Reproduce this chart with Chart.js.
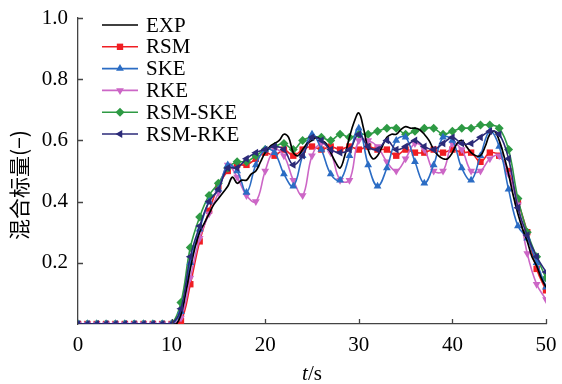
<!DOCTYPE html>
<html>
<head>
<meta charset="utf-8">
<script src="https://cdn.jsdelivr.net/npm/chart.js@4.4.0/dist/chart.umd.min.js"></script>
<style>
  html, body { margin: 0; padding: 0; background: #fff; }
  #wrap { width: 562px; height: 384px; }
</style>
</head>
<body>
<div id="wrap"><canvas id="canvas1" width="562" height="384"></canvas></div>
<script>
// time axis of the simulations (1 s output)
const simTime = [0, 1, 2, 3, 4, 5, 6, 7, 8, 9, 10, 11, 12, 13, 14, 15, 16, 17, 18, 19, 20,
  21, 22, 23, 24, 25, 26, 27, 28, 29, 30, 31, 32, 33, 34, 35, 36, 37, 38, 39, 40,
  41, 42, 43, 44, 45, 46, 47, 48, 49, 50];

// measured curve
const expTime = [0, 10, 10.5, 11, 11.5, 12, 12.5, 13, 13.5, 14, 14.5, 15, 15.5, 16, 16.5, 17, 17.5,
  18, 18.5, 19, 19.5, 20, 20.5, 21, 21.5, 22, 22.5, 23, 23.5, 24, 24.5, 25, 25.5, 26, 26.5,
  27, 27.5, 28, 28.5, 29, 29.5, 30, 30.5, 31, 31.5, 32, 32.5, 33, 33.5, 34, 34.5, 35, 35.5,
  36, 36.5, 37, 37.5, 38, 38.5, 39, 39.5, 40, 40.5, 41, 41.5, 42, 42.5, 43, 43.5, 44, 44.5,
  45, 45.5, 46, 46.5, 47, 47.5, 48, 48.5, 49, 49.5, 50];
const expVal = [0, 0, 0.00, 0.03, 0.10, 0.18, 0.25, 0.30, 0.33, 0.36, 0.39, 0.41, 0.43, 0.45, 0.48, 0.46, 0.47,
  0.47, 0.49, 0.50, 0.53, 0.56, 0.58, 0.59, 0.60, 0.62, 0.61, 0.56, 0.55, 0.57, 0.59, 0.60, 0.61, 0.60, 0.59,
  0.56, 0.53, 0.51, 0.55, 0.61, 0.66, 0.69, 0.64, 0.57, 0.54, 0.55, 0.58, 0.61, 0.62, 0.62, 0.635, 0.645, 0.64,
  0.64, 0.635, 0.62, 0.60, 0.57, 0.55, 0.54, 0.54, 0.56, 0.59, 0.60, 0.58, 0.56, 0.55, 0.55, 0.58, 0.62, 0.63,
  0.60, 0.55, 0.49, 0.42, 0.36, 0.31, 0.27, 0.22, 0.19, 0.15, 0.12];

const rsm = [0, 0, 0, 0, 0, 0, 0, 0, 0, 0, 0, 0.01, 0.13, 0.27, 0.37, 0.45, 0.50, 0.52, 0.52, 0.54, 0.56,
  0.55, 0.57, 0.55, 0.57, 0.58, 0.57, 0.58, 0.57, 0.58, 0.57, 0.58, 0.57, 0.57, 0.55, 0.57, 0.56, 0.56, 0.57, 0.56, 0.57,
  0.56, 0.56, 0.53, 0.56, 0.55, 0.50, 0.40, 0.30, 0.18, 0.11];
const ske = [0, 0, 0, 0, 0, 0, 0, 0, 0, 0, 0, 0.04, 0.20, 0.31, 0.40, 0.44, 0.52, 0.50, 0.43, 0.52, 0.57,
  0.56, 0.49, 0.45, 0.55, 0.62, 0.57, 0.49, 0.47, 0.55, 0.64, 0.52, 0.45, 0.51, 0.60, 0.61, 0.53, 0.46, 0.52, 0.61, 0.60,
  0.51, 0.47, 0.55, 0.63, 0.58, 0.44, 0.32, 0.28, 0.20, 0.12];
const rke = [0, 0, 0, 0, 0, 0, 0, 0, 0, 0, 0, 0.02, 0.15, 0.28, 0.36, 0.43, 0.52, 0.48, 0.42, 0.40, 0.50,
  0.57, 0.55, 0.47, 0.42, 0.55, 0.59, 0.56, 0.47, 0.47, 0.60, 0.60, 0.58, 0.53, 0.50, 0.54, 0.59, 0.57, 0.50, 0.50, 0.59,
  0.57, 0.50, 0.50, 0.54, 0.55, 0.49, 0.39, 0.23, 0.13, 0.08];
const rsmSke = [0, 0, 0, 0, 0, 0, 0, 0, 0, 0, 0, 0.07, 0.25, 0.35, 0.42, 0.46, 0.51, 0.53, 0.53, 0.55, 0.57,
  0.58, 0.59, 0.57, 0.60, 0.61, 0.61, 0.60, 0.62, 0.61, 0.62, 0.62, 0.63, 0.64, 0.64, 0.62, 0.63, 0.64, 0.64, 0.62, 0.63,
  0.64, 0.64, 0.65, 0.65, 0.64, 0.57, 0.41, 0.30, 0.22, 0.15];
const rsmRke = [0, 0, 0, 0, 0, 0, 0, 0, 0, 0, 0, 0.05, 0.22, 0.32, 0.40, 0.44, 0.51, 0.51, 0.54, 0.56, 0.57,
  0.58, 0.57, 0.52, 0.55, 0.61, 0.60, 0.57, 0.56, 0.57, 0.62, 0.58, 0.57, 0.60, 0.57, 0.58, 0.60, 0.58, 0.57, 0.59, 0.61,
  0.59, 0.59, 0.61, 0.63, 0.62, 0.54, 0.38, 0.29, 0.22, 0.17];

const xTicks = [0, 10, 20, 30, 40, 50];
const yTicks = [0.2, 0.4, 0.6, 0.8, 1.0];
const yTitle = '混合标量(−)';

const serif = '"Liberation Serif", "Times New Roman", serif';

function pairs(xs, ys) {
  let out = [];
  for (let i = 0; i < xs.length; i++) out.push({ x: xs[i], y: ys[i] });
  return out;
}

function simSet(label, vals, color, style, rot, order) {
  return {
    label: label,
    data: pairs(simTime, vals),
    borderColor: color,
    backgroundColor: color,
    borderWidth: 1.6,
    pointStyle: style,
    rotation: rot,
    pointRadius: 4.5,
    pointBorderWidth: 0,
    tension: 0.4,
    order: order
  };
}

const datasets = [
  {
    label: 'EXP',
    data: pairs(expTime, expVal),
    borderColor: '#000000',
    backgroundColor: '#000000',
    borderWidth: 1.7,
    pointRadius: 0,
    tension: 0.4,
    order: 2
  },
  simSet('RSM', rsm, '#f01e23', 'rect', 0, 6),
  simSet('SKE', ske, '#2b6cc4', 'triangle', 0, 3),
  simSet('RKE', rke, '#cc66c6', 'triangle', 180, 4),
  simSet('RSM-SKE', rsmSke, '#2e9a44', 'rectRot', 0, 5),
  simSet('RSM-RKE', rsmRke, '#2b2a78', 'triangle', -90, 1)
];

// inward tick marks, axis titles and the legend box
const extras = {
  id: 'extras',
  afterDraw(chart) {
    const ctx = chart.ctx;
    const xs = chart.scales.x, ys = chart.scales.y;
    const area = chart.chartArea;
    ctx.save();
    ctx.strokeStyle = '#444';
    ctx.lineWidth = 1.3;
    ctx.beginPath();
    xTicks.forEach(v => {
      if (v === 0) return;
      const px = Math.round(xs.getPixelForValue(v)) + 0.5;
      ctx.moveTo(px, area.bottom);
      ctx.lineTo(px, area.bottom - 5);
    });
    yTicks.forEach(v => {
      const py = Math.round(ys.getPixelForValue(v)) + 0.5;
      ctx.moveTo(area.left, py);
      ctx.lineTo(area.left + 5, py);
    });
    ctx.stroke();

    // x title: italic t, upright /s
    ctx.fillStyle = '#000';
    ctx.textBaseline = 'alphabetic';
    const cx = (area.left + area.right) / 2;
    ctx.font = 'italic 21px ' + serif;
    const wt = ctx.measureText('t').width;
    ctx.font = '21px ' + serif;
    const ws = ctx.measureText('/s').width;
    const x0 = cx - (wt + ws) / 2;
    ctx.font = 'italic 21px ' + serif;
    ctx.fillText('t', x0, 380);
    ctx.font = '21px ' + serif;
    ctx.fillText('/s', x0 + wt, 380);

    // y title, read bottom to top
    ctx.save();
    ctx.translate(19, 185);
    ctx.rotate(-Math.PI / 2);
    ctx.font = '21px "Noto Sans CJK SC", sans-serif';
    ctx.textAlign = 'center';
    ctx.textBaseline = 'middle';
    ctx.fillText(yTitle, 0, 0);
    ctx.restore();

    // legend
    const lx = area.left + 24, ly = 25, row = 21.8;
    ctx.font = '21px ' + serif;
    ctx.textBaseline = 'middle';
    ctx.textAlign = 'left';
    chart.data.datasets.forEach((ds, i) => {
      const y = ly + i * row;
      ctx.strokeStyle = ds.borderColor;
      ctx.lineWidth = ds.borderWidth;
      ctx.beginPath();
      ctx.moveTo(lx, y);
      ctx.lineTo(lx + 36, y);
      ctx.stroke();
      if (ds.pointRadius > 0) {
        ctx.fillStyle = ds.borderColor;
        Chart.helpers.drawPoint(ctx, {
          pointStyle: ds.pointStyle,
          rotation: ds.rotation,
          radius: ds.pointRadius,
          borderWidth: 0
        }, lx + 18, y);
      }
      ctx.fillStyle = '#000';
      ctx.fillText(ds.label, lx + 44, y + 1);
    });
    ctx.restore();
  }
};

new Chart(document.getElementById('canvas1'), {
  type: 'line',
  data: { datasets: datasets },
  options: {
    responsive: false,
    animation: false,
    devicePixelRatio: 1,
    layout: { padding: { top: 18, right: 16, left: 0, bottom: 0 } },
    plugins: { legend: { display: false }, tooltip: { enabled: false } },
    scales: {
      x: {
        type: 'linear',
        min: 0,
        max: 50,
        grid: { display: false, drawTicks: false },
        border: { display: true, color: '#444', width: 1.3 },
        ticks: {
          stepSize: 10,
          padding: 9,
          color: '#000',
          font: { family: serif, size: 21 }
        },
        afterFit(scale) {
          scale.height = 60;
          scale.paddingLeft = 0;
          scale.paddingRight = 0;
        }
      },
      y: {
        min: 0,
        max: 1,
        grid: { display: false, drawTicks: false },
        border: { display: true, color: '#444', width: 1.3 },
        ticks: {
          stepSize: 0.2,
          padding: 10,
          color: '#000',
          font: { family: serif, size: 21 },
          callback: v => (v === 0 ? '' : v.toFixed(1))
        },
        afterFit(scale) {
          scale.width = 78;
          scale.paddingTop = 0;
          scale.paddingBottom = 0;
        }
      }
    }
  },
  plugins: [extras]
});
</script>
</body>
</html>
